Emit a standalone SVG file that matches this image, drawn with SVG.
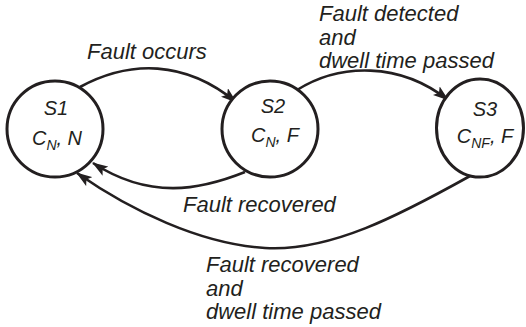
<svg xmlns="http://www.w3.org/2000/svg" width="526" height="327" viewBox="0 0 526 327">
  <style>
    .state { fill: #ffffff; stroke: #231f20; stroke-width: 3; }
    .edge { fill: none; stroke: #231f20; stroke-width: 2.6; marker-end: url(#arrow); }
    .node-label { font-family: "Liberation Sans", Arial, sans-serif; font-style: italic; font-size: 20px; fill: #231f20; text-anchor: middle; }
    .sub { font-size: 14px; }
    .edge-label { font-family: "Liberation Sans", Arial, sans-serif; font-style: italic; font-size: 22px; fill: #231f20; }
  </style>
  <defs>
    <marker id="arrow" markerUnits="userSpaceOnUse" viewBox="0 0 16 11" markerWidth="16" markerHeight="11" refX="15" refY="5.5" orient="auto">
      <path d="M0,0 L16,5.5 L0,11 L3.5,5.5 z" fill="#231f20"/>
    </marker>
  </defs>

  <!-- transitions -->
  <g id="connectors">
    <path class="edge" d="M80,87 C130,60 185,60 236,102"/>
    <path class="edge" d="M297,90 C340,63 400,62 448,100"/>
    <path class="edge" d="M245,172 C200,190 150,200 93,163"/>
    <path class="edge" d="M470,176 C400,215 330,252 265,248 C200,244 130,210 77,173"/>
  </g>

  <!-- states -->
  <g id="s1">
    <circle class="state" cx="55" cy="129" r="48"/>
    <text class="node-label" x="56" y="115">S1</text>
    <text class="node-label" x="57" y="145">C<tspan class="sub" dy="5">N</tspan><tspan dy="-5">, N</tspan></text>
  </g>
  <g id="s2">
    <circle class="state" cx="270" cy="129" r="48"/>
    <text class="node-label" x="273" y="113">S2</text>
    <text class="node-label" x="275" y="142">C<tspan class="sub" dy="5">N</tspan><tspan dy="-5">, F</tspan></text>
  </g>
  <g id="s3">
    <ellipse class="state" cx="480" cy="128" rx="43.5" ry="49"/>
    <text class="node-label" x="485" y="116">S3</text>
    <text class="node-label" x="485" y="143">C<tspan class="sub" dy="5">NF</tspan><tspan dy="-5">, F</tspan></text>
  </g>

  <!-- transition labels -->
  <g id="labels">
    <text class="edge-label" x="87" y="59">Fault occurs</text>
    <text class="edge-label" x="319" y="21">Fault detected</text>
    <text class="edge-label" x="319" y="45">and</text>
    <text class="edge-label" x="319" y="68">dwell time passed</text>
    <text class="edge-label" x="183" y="212">Fault recovered</text>
    <text class="edge-label" x="206" y="272">Fault recovered</text>
    <text class="edge-label" x="206" y="296">and</text>
    <text class="edge-label" x="206" y="319">dwell time passed</text>
  </g>
</svg>
